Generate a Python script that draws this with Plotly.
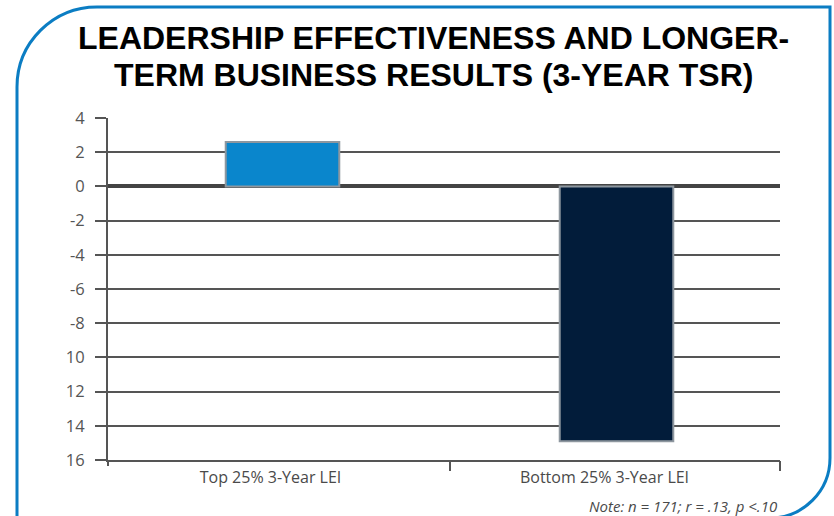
import plotly.graph_objects as go

categories = ["Top 25% 3-Year LEI", "Bottom 25% 3-Year LEI"]
values = [2.6, -14.9]
bar_colors = ["#0A86CC", "#021C3A"]
ytick_vals = [4, 2, 0, -2, -4, -6, -8, -10, -12, -14, -16]
ytick_text = ["4", "2", "0", "-2", "-4", "-6", "-8", "10", "12", "14", "16"]
title_lines = ["LEADERSHIP EFFECTIVENESS AND LONGER-", "TERM BUSINESS RESULTS (3-YEAR TSR)"]
note_text = "Note: n = 171; r = .13, p <.10"

W, H = 834, 516
L, R, T, B = 108, 780, 118, 460

def px(x):
    return (x - L) / (R - L)

def py(y):
    return (B - y) / (B - T)

xs = list(range(len(categories)))

fig = go.Figure()
fig.add_trace(go.Bar(
    x=xs, y=values, width=0.34,
    marker=dict(color=bar_colors, line=dict(color="#8E979F", width=2)),
    showlegend=False, hoverinfo="skip",
))
fig.add_trace(go.Scatter(x=[0.5], y=[0], xaxis="x2", mode="markers",
                         marker=dict(opacity=0), showlegend=False, hoverinfo="skip"))

xr = [(L - 282.5) / 334, (R - 282.5) / 334]

fig.update_layout(
    width=W, height=H,
    margin=dict(l=L, r=W - R, t=T, b=H - B, pad=0),
    paper_bgcolor="white", plot_bgcolor="white",
    xaxis=dict(range=xr, tickvals=xs, ticktext=categories, ticks="",
               showgrid=False, zeroline=False, showline=True, linecolor="#555555", linewidth=2,
               tickfont=dict(family="Open Sans", size=16, color="#4a4a4a"),
               ticklabelshift=-12, ticklabelstandoff=2),
    xaxis2=dict(range=xr, overlaying="x", anchor="y", tickvals=[0.5, xr[1] - 0.001],
                ticktext=["", ""], ticks="outside", ticklen=10, tickwidth=2, tickcolor="#555555",
                showgrid=False, zeroline=False, showline=False, side="bottom"),
    yaxis=dict(range=[-16, 4], tickvals=ytick_vals, ticktext=ytick_text,
               ticks="outside", ticklen=11, tickwidth=2, tickcolor="#555555",
               showgrid=True, gridcolor="#555555", gridwidth=2,
               zeroline=True, zerolinecolor="#444444", zerolinewidth=4,
               showline=True, linecolor="#555555", linewidth=2,
               tickfont=dict(family="Open Sans", size=16.5, color="#555555"),
               ticklabelstandoff=7),
)

shapes = []
shapes.append(dict(type="line", xref="paper", yref="paper", x0=0, x1=0, y0=0, y1=py(466),
                   line=dict(color="#555555", width=2)))
k = 0.5523
r1, r2 = 80, 60
x0, y0 = 17, 7
x1, y1 = 830, 518
path = (f"M {px(x0)},{py(530)} L {px(x0)},{py(y0 + r1)} "
        f"C {px(x0)},{py(y0 + r1 - k * r1)} {px(x0 + r1 - k * r1)},{py(y0)} {px(x0 + r1)},{py(y0)} "
        f"L {px(x1)},{py(y0)} L {px(x1)},{py(y1 - r2)} "
        f"C {px(x1)},{py(y1 - r2 + k * r2)} {px(x1 - r2 + k * r2)},{py(y1)} {px(x1 - r2)},{py(y1)} "
        f"L {px(x0)},{py(y1)}")
shapes.append(dict(type="path", xref="paper", yref="paper", path=path,
                   line=dict(color="#0B7DC3", width=3)))
fig.update_layout(shapes=shapes)

ann = []
for i, line in enumerate(title_lines):
    ann.append(dict(text=f"<b>{line}</b>", xref="paper", yref="paper",
                    x=px(433), y=py(38 + 37 * i), xanchor="center", yanchor="middle",
                    showarrow=False, font=dict(family="Liberation Sans", size=32, color="#000000")))
ann.append(dict(text=f"<i>{note_text}</i>", xref="paper", yref="paper",
                x=px(779), y=py(506), xanchor="right", yanchor="middle", showarrow=False,
                font=dict(family="Open Sans", size=15, color="#4a4a4a")))
fig.update_layout(annotations=ann)

fig.write_html("out.html")
